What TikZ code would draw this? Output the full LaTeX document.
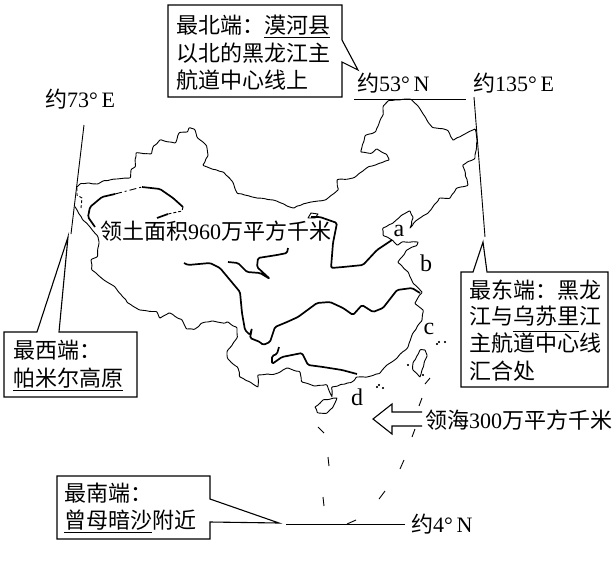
\documentclass[tikz,border=0pt]{standalone}
\usepackage{fontspec}
\usetikzlibrary{decorations.pathmorphing}
\setmainfont{Liberation Serif}
\newfontfamily\cjk{Noto Sans CJK SC}
\newcommand{\zh}[1]{{\cjk #1}}
\tikzset{
	border/.style={black, line width=0.9pt, line join=round},
	coast/.style={border, rounded corners=0.8pt, decorate, decoration={random steps, segment length=3.5pt, amplitude=0.5pt}},
	river/.style={black, line width=1.7pt, line join=round, rounded corners=1.5pt},
	calloutbox/.style={black, line width=1.1pt, fill=white, line join=miter},
	maptext/.style={inner sep=0pt, font=\fontsize{22}{22}\selectfont},
	nameline/.style={black, line width=0.9pt},
	seaword/.style={inner sep=0pt, font=\fontsize{24}{24}\selectfont}
}
\begin{document}
\begin{tikzpicture}[x=1pt,y=-1pt]
\useasboundingbox (0,0) rectangle (616,568);
% outline of the land
\draw [coast] (77,187) -- (80,184) -- (88,183) -- (97,184) -- (103,181) -- (117,179) -- (130,178) -- (131,170) -- (135,167) -- (136,153) -- (151,154) -- (153,147) -- (160,140) -- (175,143) -- (179,133) -- (187,132) -- (189,128) -- (194,129) -- (197,137) -- (206,145) -- (208,155) -- (203,165) -- (212,169) -- (223,172) -- (232,181) -- (237,193) -- (257,198) -- (273,200) -- (293,208) -- (307,203) -- (325,200) -- (338,190) -- (337,180) -- (353,178) -- (368,167) -- (389,160) -- (387,155) -- (377,149) -- (372,153) -- (361,152) -- (365,136) -- (375,132) -- (383,115) -- (383,107) -- (388,101) -- (410,99) -- (417,105) -- (428,122) -- (432,127) -- (447,130) -- (453,140) -- (463,135) -- (475,129) -- (477,140) -- (475,158) -- (463,165) -- (468,185) -- (457,188) -- (450,198) -- (440,198) -- (428,213) -- (417,220) -- (410,228) -- (413,218) -- (410,211) -- (402,215) -- (393,223) -- (383,228) -- (383,235) -- (392,240) -- (397,245) -- (402,242) -- (418,242) -- (417,245) -- (407,250) -- (398,262) -- (408,272) -- (413,283) -- (422,292) -- (415,303) -- (423,310) -- (422,320) -- (413,333) -- (408,347) -- (397,358) -- (387,365) -- (380,373) -- (367,377) -- (357,377) -- (352,382) -- (332,387) -- (332,397) -- (327,385) -- (315,386) -- (302,382) -- (300,372) -- (288,368) -- (275,374) -- (258,375) -- (258,387) -- (250,382) -- (240,377) -- (238,368) -- (228,359) -- (227,352) -- (237,338) -- (237,328) -- (228,322) -- (225,323) -- (213,321) -- (202,323) -- (195,329) -- (187,329) -- (182,320) -- (170,313) -- (160,318) -- (157,312) -- (140,310) -- (128,303) -- (115,287) -- (107,282) -- (92,270) -- (91,260) -- (97,257) -- (99,243) -- (98,237) -- (90,227) -- (83,220) -- (77,210) -- (81,208);
\draw [border, densely dashed] (81,208) -- (82,198) -- (77,195) -- (77,187);
% islands
\draw [coast] (315,407) -- (323,400) -- (337,398) -- (333,407) -- (327,413) -- (318,413) -- (315,407);
\draw [coast] (425,350) -- (427,355) -- (422,370) -- (420,377) -- (413,370) -- (413,363) -- (420,350) -- (425,350);
\foreach \x/\y in {437/344,439/342,445/342,408/365,377/387,379/385,383/388,423/375}
	\filldraw [black] (\x,\y) circle (0.8pt);
\foreach \xa/\ya/\xb/\yb in {430/378/425/384,422/398/419/406,415/429/412/437,404/460/400/469,385/491/379/499,356/520/347/524,318/427/324/433,328/457/329/466,323/497/324/506}
	\draw [border] (\xa,\ya) -- (\xb,\yb);
% rivers
\draw [river] (95,227) -- (88,217) -- (90,207) -- (102,197) -- (115,194);
\draw [border, dash pattern=on 7pt off 3pt on 2pt off 3pt] (115,194) -- (142,187);
\draw [river] (142,187) -- (160,189) -- (173,198) -- (183,207);
\draw [border, densely dashed] (183,207) -- (182,211) -- (168,214);
\draw [river] (168,214) -- (157,218);
\draw [river] (311,217) -- (320,217) -- (337,223) -- (333,243) -- (331,268) -- (343,267) -- (363,265) -- (377,250) -- (392,240);
\draw [border] (308,218) -- (311,213) -- (318,214) -- (315,218) -- cycle;
\draw [river] (228,262) -- (238,263) -- (247,272) -- (260,273) -- (270,279) -- (257,267) -- (258,258) -- (277,255) -- (287,253) -- (288,248);
\draw [river] (184,263) -- (188,265) -- (210,263) -- (220,268) -- (240,292) -- (242,313) -- (245,330) -- (250,335) -- (252,328) -- (250,338) -- (260,342) -- (263,345) -- (270,342) -- (275,327) -- (287,322) -- (298,317) -- (317,303) -- (330,302) -- (343,308) -- (353,315) -- (362,305) -- (373,312) -- (383,308) -- (397,290) -- (412,288) -- (420,293);
\draw [river] (279,347) -- (277,354) -- (272,356) -- (272,364) -- (282,357) -- (302,353) -- (308,365) -- (323,367) -- (342,370) -- (357,374);
% extreme points
\coordinate (northA) at (354,99);
\coordinate (northB) at (466,99);
\draw [nameline] (northA) -- (northB);
\coordinate (eastA) at (474,97);
\coordinate (eastB) at (485,237);
\draw [nameline] (eastA) -- (eastB);
\coordinate (westA) at (84,125);
\coordinate (westB) at (71,234);
\draw [nameline] (westA) -- (westB);
\coordinate (southA) at (286,524);
\coordinate (southB) at (405,524);
\draw [nameline] (southA) -- (southB);
% callouts
\draw [calloutbox] (168,5) -- (342,5) -- (342,40) -- (358,70) -- (342,62) -- (342,97) -- (168,97) -- cycle;
\draw [calloutbox] (461,272) -- (473,272) -- (483,242) -- (487,272) -- (608,272) -- (608,387) -- (461,387) -- cycle;
\draw [calloutbox] (4,332) -- (37,332) -- (68,237) -- (59,332) -- (137,332) -- (137,397) -- (4,397) -- cycle;
\draw [calloutbox] (57,476) -- (210,476) -- (210,499) -- (279,523) -- (210,522) -- (210,539) -- (57,539) -- cycle;
% sea arrow
\draw [black, line width=1.1pt] (422,412) -- (392,412) -- (392,404) -- (373,419) -- (392,434) -- (392,426) -- (422,426);
% labels
\node [maptext, anchor=west] (northOne) at (176,25) {\zh{最北端：漠河县}};
\node [maptext, anchor=west] (northTwo) at (176,53) {\zh{以北的黑龙江主}};
\node [maptext, anchor=west] (northThree) at (176,80) {\zh{航道中心线上}};
\node [maptext, anchor=west] (eastOne) at (469,290) {\zh{最东端：黑龙}};
\node [maptext, anchor=west] (eastTwo) at (469,316) {\zh{江与乌苏里江}};
\node [maptext, anchor=west] (eastThree) at (469,343) {\zh{主航道中心线}};
\node [maptext, anchor=west] (eastFour) at (469,371) {\zh{汇合处}};
\node [maptext, anchor=west] (westOne) at (13,350) {\zh{最西端：}};
\node [maptext, anchor=west] (westTwo) at (13,378) {\zh{帕米尔高原}};
\node [maptext, anchor=west] (southOne) at (64,493) {\zh{最南端：}};
\node [maptext, anchor=west] (southTwo) at (64,520) {\zh{曾母暗沙附近}};
\draw [nameline] (264,37) -- (330,37);
\draw [nameline] (513,331) -- (579,331);
\draw [nameline] (13,390) -- (123,390);
\draw [nameline] (64,532) -- (152,532);
\node [maptext, anchor=base west] (lonWest) at (45,107) {\zh{约}73°\,E};
\node [maptext, anchor=base west] (latNorth) at (357,91) {\zh{约}53°\,N};
\node [maptext, anchor=base west] (lonEast) at (473,91) {\zh{约}135°\,E};
\node [maptext, anchor=base west] (latSouth) at (411,532) {\zh{约}4°\,N};
\node [maptext, anchor=base west] (seaArea) at (425,428) {\zh{领海}300\zh{万平方千米}};
\node [maptext, anchor=base west] (landArea) at (100,239) {\zh{领土面积}960\zh{万平方千米}};
\node [seaword] (seaA) at (399,231) {a};
\node [seaword] (seaB) at (426,263) {b};
\node [seaword] (seaC) at (429,329) {c};
\node [seaword] (seaD) at (357,397) {d};
\end{tikzpicture}
\end{document}
